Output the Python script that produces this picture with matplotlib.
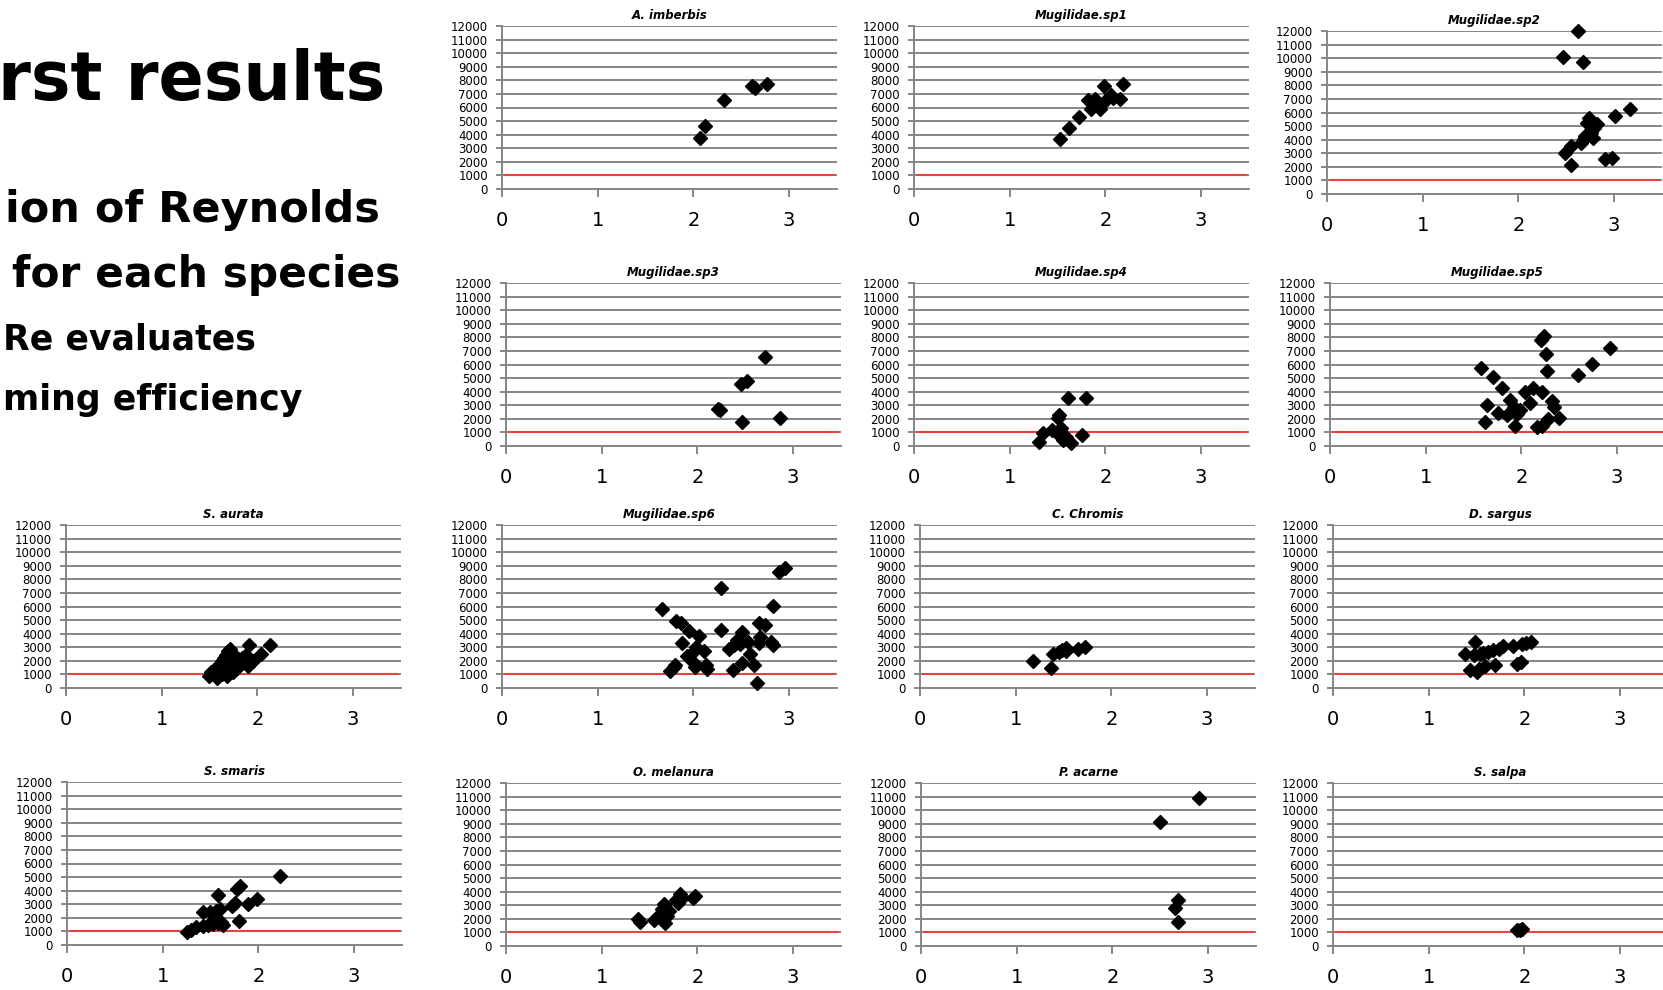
import matplotlib
matplotlib.use("Agg")
import matplotlib.pyplot as plt

# ---- data ----
species = ["A. imberbis", "Mugilidae.sp1", "Mugilidae.sp2",
           "Mugilidae.sp3", "Mugilidae.sp4", "Mugilidae.sp5",
           "S. aurata", "Mugilidae.sp6", "C. Chromis", "D. sargus",
           "S. smaris", "O. melanura", "P. acarne", "S. salpa"]

imberbis_x = [2.07, 2.12, 2.32, 2.61, 2.64, 2.77]
imberbis_y = [3750, 4650, 6550, 7550, 7450, 7750]

sp1_x = [1.53, 1.62, 1.72, 1.82, 1.85, 1.89, 1.92, 1.94, 1.99, 2.01, 2.06, 2.08, 2.15, 2.18]
sp1_y = [3710, 4470, 5280, 6540, 5920, 6630, 6290, 5920, 7570, 6540, 6900, 6700, 6630, 7760]

sp2_x = [2.62, 2.47, 2.67, 3.17, 3.01, 2.74, 2.72, 2.82, 2.79, 2.76, 2.70, 2.78, 2.65, 2.55,
         2.49, 2.55, 2.90, 2.98, 2.69]
sp2_y = [12000, 10120, 9700, 6250, 5750, 5630, 5260, 5140, 4890, 4520, 4270, 4150, 3780, 3530,
         3040, 2170, 2540, 2620, 4020]

sp3_x = [2.71, 2.46, 2.52, 2.22, 2.24, 2.47, 2.86]
sp3_y = [6540, 4550, 4750, 2750, 2620, 1790, 2040]

sp4_x = [1.61, 1.80, 1.52, 1.50, 1.44, 1.35, 1.31, 1.54, 1.52, 1.56, 1.64, 1.75, 1.59]
sp4_y = [3520, 3520, 2290, 2040, 1180, 930, 320, 1300, 810, 440, 250, 810, 690]

sp5_x = [1.58, 1.70, 1.80, 1.64, 1.62, 1.76, 1.85, 1.88, 1.92, 1.93, 1.95, 1.99, 2.04, 2.09,
         2.12, 2.16, 2.21, 2.21, 2.20, 2.24, 2.26, 2.27, 2.28, 2.32, 2.34, 2.39, 2.59, 2.74, 2.93]
sp5_y = [5730, 5090, 4250, 3020, 1790, 2460, 2290, 3390, 2900, 1480, 2360, 2660, 4010, 3150,
         4250, 1380, 1500, 4010, 7820, 8070, 6760, 5530, 1970, 3320, 2900, 2040, 5240, 6020, 7250]

aurata_x = [1.49, 1.52, 1.55, 1.57, 1.58, 1.60, 1.61, 1.62, 1.63, 1.64, 1.65, 1.66, 1.67, 1.68,
            1.69, 1.70, 1.71, 1.72, 1.73, 1.74, 1.75, 1.76, 1.78, 1.80, 1.82, 1.84, 1.86, 1.88,
            1.90, 1.91, 1.93, 1.95, 2.04, 2.13, 1.59, 1.63, 1.67, 1.70, 1.73, 1.77]
aurata_y = [900, 1150, 1350, 1500, 700, 1650, 1800, 1400, 2000, 1600, 2200, 1250, 2450, 900,
            2700, 1900, 2900, 1500, 2300, 1200, 2000, 1700, 1400, 2100, 1700, 2200, 1900, 2400,
            1600, 3200, 1900, 2000, 2500, 3200, 1100, 1000, 1700, 2500, 2600, 1800]

sp6_x = [1.67, 1.82, 1.87, 1.95, 1.88, 1.93, 2.06, 2.01, 2.03, 2.11, 2.01, 2.02, 1.76, 1.80,
         1.81, 2.13, 2.14, 2.29, 2.29, 2.37, 2.41, 2.42, 2.46, 2.51, 2.49, 2.57, 2.51, 2.59,
         2.63, 2.66, 2.68, 2.69, 2.70, 2.75, 2.81, 2.83, 2.83, 2.89, 2.96]
sp6_y = [5850, 4940, 4750, 4200, 3340, 2340, 3810, 2730, 3020, 2700, 1840, 1550, 1250, 1550,
         1720, 1670, 1380, 7330, 4300, 2900, 1300, 3150, 3520, 4130, 3270, 3390, 1840, 2530,
         1720, 370, 3320, 4790, 3760, 4620, 3390, 3200, 6020, 8530, 8800]

chromis_x = [1.18, 1.37, 1.39, 1.45, 1.48, 1.53, 1.53, 1.65, 1.72]
chromis_y = [2010, 1470, 2500, 2620, 2820, 2940, 2700, 2870, 2990]

sargus_x = [1.38, 1.48, 1.43, 1.50, 1.53, 1.59, 1.57, 1.62, 1.67, 1.69, 1.73, 1.78, 1.88, 1.92,
            1.96, 1.97, 2.02, 2.07, 1.54, 1.47]
sargus_y = [2480, 3390, 1350, 1180, 1430, 1600, 2580, 2660, 2780, 1670, 2900, 3070, 3070, 1800,
            1920, 3270, 3320, 3390, 2530, 2410]

smaris_x = [1.25, 1.30, 1.35, 1.42, 1.47, 1.53, 1.58, 1.63, 1.61, 1.42, 1.49, 1.56, 1.60, 1.58,
            1.72, 1.75, 1.78, 1.81, 1.80, 1.89, 1.98, 2.23]
smaris_y = [990, 1110, 1310, 1430, 1480, 1560, 1600, 1480, 1680, 2420, 2420, 2490, 2670, 3700,
            2860, 3090, 4150, 4350, 1800, 3040, 3360, 5060]

melanura_x = [1.38, 1.40, 1.55, 1.62, 1.65, 1.63, 1.66, 1.68, 1.70, 1.78, 1.82, 1.80, 1.84, 1.95, 1.97]
melanura_y = [2000, 1800, 1900, 2400, 3100, 2700, 1700, 2200, 2600, 3400, 3800, 3200, 3500, 3500, 3700]

acarne_x = [2.50, 2.90, 2.68, 2.65, 2.68]
acarne_y = [9100, 10900, 3400, 2800, 1800]

salpa_x = [1.92, 1.97, 1.95]
salpa_y = [1200, 1250, 1150]

series_x = [imberbis_x, sp1_x, sp2_x, sp3_x, sp4_x, sp5_x, aurata_x, sp6_x,
            chromis_x, sargus_x, smaris_x, melanura_x, acarne_x, salpa_x]
series_y = [imberbis_y, sp1_y, sp2_y, sp3_y, sp4_y, sp5_y, aurata_y, sp6_y,
            chromis_y, sargus_y, smaris_y, melanura_y, acarne_y, salpa_y]

threshold = 1050
y_ticks = list(range(0, 12001, 1000))
x_ticks = [0, 1, 2, 3]

# ---- layout (pixels on the 1663x990 slide) ----
W, H = 1663, 990
ax_w, ax_h = 335, 163
positions = [(502, 26), (914, 26), (1327, 31),
             (506, 283), (914, 283), (1330, 283),
             (66, 525), (502, 525), (920, 525), (1333, 525),
             (67, 782), (506, 783), (921, 783), (1333, 783)]

grey = "#868686"

fig = plt.figure(figsize=(W / 100, H / 100), dpi=100)
fig.patch.set_facecolor("white")

for name, xs, ys, (left, top) in zip(species, series_x, series_y, positions):
    ax = fig.add_axes([left / W, 1 - (top + ax_h) / H, ax_w / W, ax_h / H])
    ax.set_xlim(0, 3.5)
    ax.set_ylim(0, 12000)
    ax.set_yticks(y_ticks)
    ax.set_xticks(x_ticks)
    ax.yaxis.grid(True, color=grey, lw=1.4)
    ax.set_axisbelow(True)
    for s in ["top", "right"]:
        ax.spines[s].set_visible(False)
    for s in ["left", "bottom"]:
        ax.spines[s].set_color(grey)
        ax.spines[s].set_linewidth(1.4)
    ax.tick_params(axis="y", labelsize=8.5, length=4, width=1.4, color=grey, pad=6)
    ax.tick_params(axis="x", labelsize=14, length=6, width=1.4, color=grey, pad=10)
    ax.axhline(threshold, xmin=0.01, xmax=0.99, color="#e8423f", lw=1.5, zorder=2)
    ax.plot(xs, ys, linestyle="none", marker="D", ms=7.5, color="black", zorder=3,
            clip_on=False)
    ax.set_title(name, fontsize=8.5, fontweight="bold", fontstyle="italic", pad=5)

# slide text (left part of the slide is cut off)
def px_text(x, y, s, size, ha):
    fig.text(x / W, 1 - y / H, s, fontsize=size, fontweight="bold",
             family="DejaVu Sans", ha=ha, va="baseline")

px_text(385, 100, "rst results", 48, "right")
px_text(380, 222, "ion of Reynolds", 31, "right")
px_text(400, 287, "for each species", 30.5, "right")
px_text(3, 350, "Re evaluates", 25, "left")
px_text(302, 410, "ming efficiency", 25, "right")

fig.savefig("out.png", dpi=100)
